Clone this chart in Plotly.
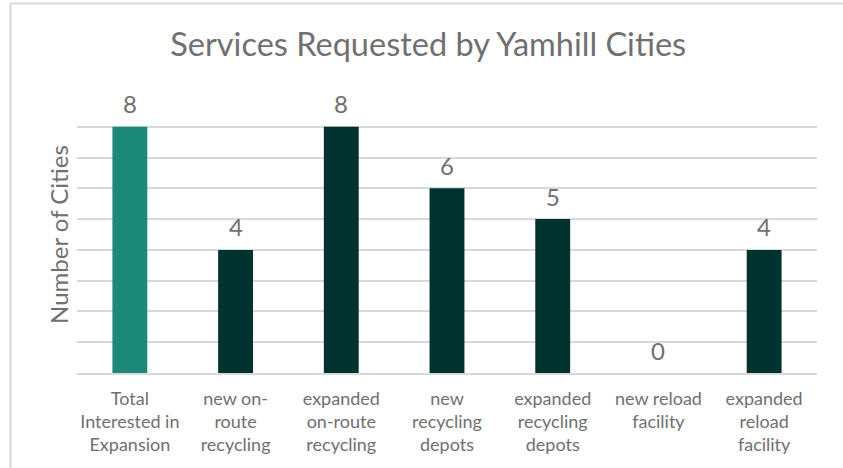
import plotly.graph_objects as go

# Chart data
categories = [
    "Total<br>Interested in<br>Expansion",
    "new on-<br>route<br>recycling",
    "expanded<br>on-route<br>recycling",
    "new<br>recycling<br>depots",
    "expanded<br>recycling<br>depots",
    "new reload<br>facility",
    "expanded<br>reload<br>facility",
]
cities = [8, 4, 8, 6, 5, 0, 4]
bar_colors = ["#1A8A77"] + ["#00332F"] * 6

TEXT = "#707070"
W, H = 843, 468
ML, MR, MT, MB = 77, 26, 96, 95
plot_w = W - ML - MR
plot_h = H - MT - MB

fig = go.Figure(
    go.Bar(
        x=categories,
        y=cities,
        marker=dict(color=bar_colors, line=dict(width=0)),
        width=0.33,
        hoverinfo="skip",
    )
)

# Value labels above each bar
for cat, val in zip(categories, cities):
    fig.add_annotation(
        x=cat, y=val, text=str(val), showarrow=False,
        yshift=23, font=dict(family="Lato", size=24, color=TEXT),
    )

# Outer frame lines (top and left edges)
px_x = lambda p: (p - ML) / plot_w
px_y = lambda p: (H - MB - p) / plot_h
frame = dict(color="#D9D9D9", width=2)
fig.add_shape(type="line", xref="paper", yref="paper",
              x0=px_x(10), x1=px_x(845), y0=px_y(3.5), y1=px_y(3.5), line=frame)
fig.add_shape(type="line", xref="paper", yref="paper",
              x0=px_x(10.5), x1=px_x(10.5), y0=px_y(3.5), y1=px_y(470), line=frame)

fig.update_layout(
    width=W, height=H,
    margin=dict(l=ML, r=MR, t=MT, b=MB),
    paper_bgcolor="white", plot_bgcolor="white",
    showlegend=False,
    title=dict(
        text="Services Requested by Yamhill Cities",
        x=0.508, xanchor="center", y=1 - 45 / H, yanchor="middle",
        font=dict(family="Lato", size=32.5, color=TEXT),
    ),
    font=dict(family="Lato", color=TEXT),
)
fig.update_xaxes(
    tickfont=dict(family="Lato", size=18, color=TEXT),
    showline=True, linecolor="#D9D9D9", linewidth=2,
    ticks="", showgrid=False, ticklabelstandoff=8,
)
fig.update_yaxes(
    range=[0, 9], dtick=1, showticklabels=False,
    showgrid=True, gridcolor="#D9D9D9", gridwidth=1.5,
    zeroline=False, ticks="",
    title=dict(text="Number of Cities", standoff=0,
               font=dict(family="Lato", size=24, color=TEXT)),
)

fig.write_html("out.html")
